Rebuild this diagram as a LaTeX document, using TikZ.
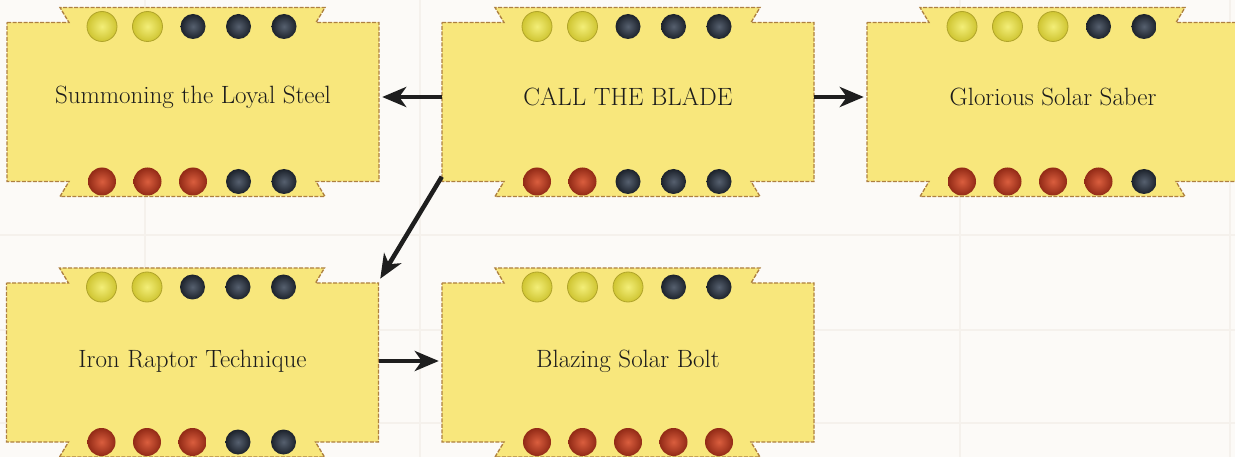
\documentclass[tikz,border=0pt]{standalone}
\usetikzlibrary{arrows.meta,calc}
\definecolor{bgc}{HTML}{FCFAF7}
\definecolor{gridc}{HTML}{F5F1EC}
\definecolor{cardfill}{HTML}{F8E77C}
\definecolor{cardedgec}{HTML}{AE8040}
\definecolor{textc}{HTML}{1C1C1C}
\definecolor{arrowc}{HTML}{1E1E1E}
\definecolor{yelIn}{HTML}{F3EE78}
\definecolor{yelOut}{HTML}{CFC532}
\definecolor{yelRim}{HTML}{B0A42A}
\definecolor{darkIn}{HTML}{56606F}
\definecolor{darkOut}{HTML}{1C222B}
\definecolor{redIn}{HTML}{DA5E3E}
\definecolor{redOut}{HTML}{922A16}
\tikzset{
  cardbox/.style={draw=cardedgec, line width=1.3pt, dash pattern=on 4pt off 1.5pt, fill=cardfill},
  cardlabel/.style={minimum width=372pt, minimum height=159pt, inner sep=0pt,
    font=\fontsize{25}{28}\selectfont, text=textc},
  dotY/.style={inner color=yelIn, outer color=yelOut, draw=yelRim, line width=0.8pt, radius=15pt},
  dotD/.style={inner color=darkIn, outer color=darkOut, radius=12.5pt},
  dotR/.style={inner color=redIn, outer color=redOut, radius=14pt},
  link/.style={line width=4.5pt, draw=arrowc, -{Stealth[length=24pt,width=20pt,inset=7pt]}, shorten >=3pt},
  gridline/.style={draw=gridc, line width=1.2pt},
}
\newcommand\cardpic[4]{%
  \begin{scope}[shift={(#1,#2)}]
    \path[cardbox] (-186,-79.5) -- (-124,-79.5) -- (-133,-94.5) -- (132,-94.5) -- (123,-79.5)
      -- (186,-79.5) -- (186,79.5) -- (123,79.5) -- (132,94.5) -- (-133,94.5) -- (-124,79.5)
      -- (-186,79.5) -- cycle;
    \foreach \c [count=\i] in {#3} { \path[dot\c] ({(\i-3)*45.5},-75.5) circle; }
    \foreach \c [count=\i] in {#4} { \path[dot\c] ({(\i-3)*45.5},79.5) circle; }
  \end{scope}}
\begin{document}
\begin{tikzpicture}[x=1pt,y=-1pt]
  \useasboundingbox (0,0) rectangle (1235,457);
  \fill[bgc] (0,0) rectangle (1235,457);
  \foreach \gx in {145,420,960,1230} \path[gridline] (\gx,0) -- (\gx,457);
  \foreach \gy in {235,330,423} \path[gridline] (0,\gy) -- (1235,\gy);

  \cardpic{193}{102}{Y,Y,D,D,D}{R,R,R,D,D}
  \cardpic{628}{102}{Y,Y,D,D,D}{R,R,D,D,D}
  \cardpic{1053}{102}{Y,Y,Y,D,D}{R,R,R,R,D}
  \cardpic{192.5}{362.5}{Y,Y,D,D,D}{R,R,R,D,D}
  \cardpic{628}{362.5}{Y,Y,Y,D,D}{R,R,R,R,R}

  \node[cardlabel] (c1) at (193,97) {Summoning the Loyal Steel};
  \node[cardlabel] (c2) at (628,97) {CALL THE BLADE};
  \node[cardlabel] (c3) at (1053,97) {Glorious Solar Saber};
  \node[cardlabel] (c4) at (192.5,361) {Iron Raptor Technique};
  \node[cardlabel] (c5) at (628,361) {Blazing Solar Bolt};

  \draw[link] (c2.west) -- (c1.east);
  \draw[link] (c2.east) -- (c3.west);
  \draw[link] (c2.south west) -- (c4.north east);
  \draw[link] (c4.east) -- (c5.west);
\end{tikzpicture}
\end{document}
